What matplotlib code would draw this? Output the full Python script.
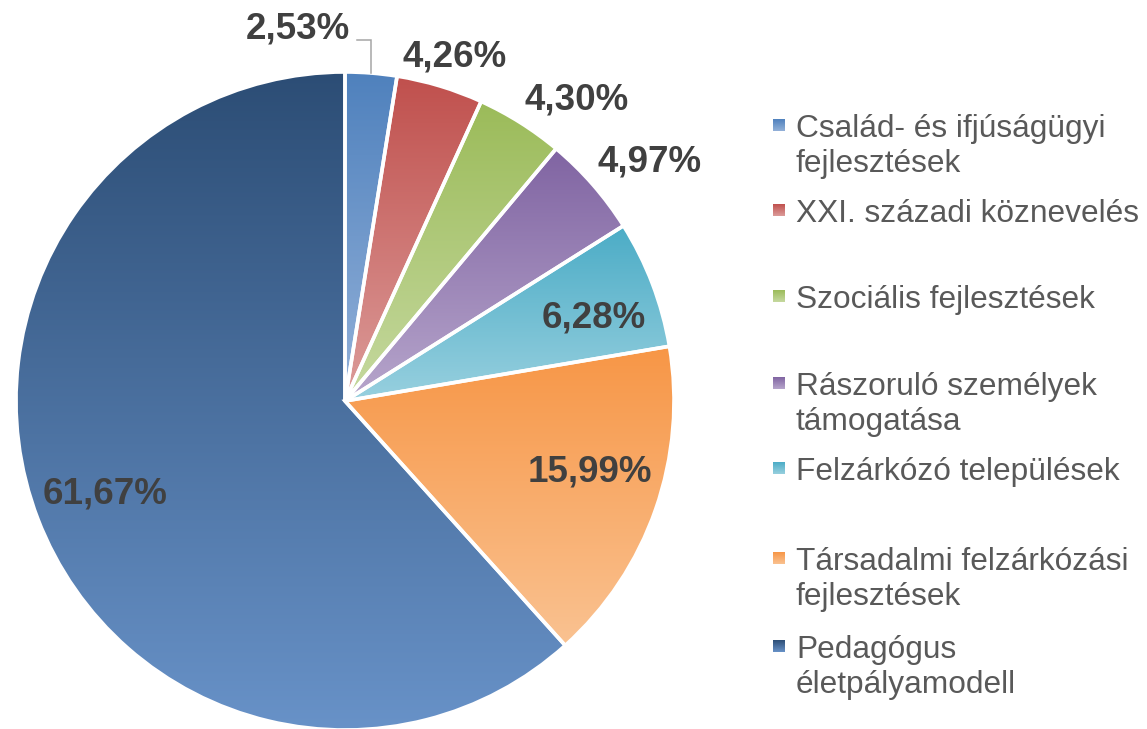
import numpy as np
import matplotlib
matplotlib.use("Agg")
import matplotlib.pyplot as plt
from matplotlib.patches import Wedge
from matplotlib.colors import to_rgb

# data
categories = [
    "Család- és ifjúságügyi\nfejlesztések",
    "XXI. századi köznevelés",
    "Szociális fejlesztések",
    "Rászoruló személyek\ntámogatása",
    "Felzárkózó települések",
    "Társadalmi felzárkózási\nfejlesztések",
    "Pedagógus\néletpályamodell",
]
shares = [2.53, 4.26, 4.30, 4.97, 6.28, 15.99, 61.67]
value_labels = ["2,53%", "4,26%", "4,30%", "4,97%", "6,28%", "15,99%", "61,67%"]

# gradient fills (top colour, bottom colour)
top_colors = ["#4f81bd", "#c0504d", "#9bbb59", "#8064a2", "#4bacc6", "#f79646", "#2c4d75"]
bottom_colors = ["#93b1d9", "#dc9c9a", "#c6d9a0", "#b7a6cc", "#98d0df", "#fac291", "#6892c8"]

W, H = 1147, 729
fig = plt.figure(figsize=(W / 100, H / 100), dpi=100)
ax = fig.add_axes([0, 0, 1, 1])
ax.set_xlim(0, W)
ax.set_ylim(0, H)
ax.axis("off")


def py(y):
    # pixel row -> data y
    return H - y


def gradient_image(x0, x1, y0, y1, c_top, c_bot, clip=None, zorder=1):
    n = 256
    t = np.linspace(0, 1, n)[:, None]
    a, b = np.array(to_rgb(c_top)), np.array(to_rgb(c_bot))
    img = (a * (1 - t) + b * t)[:, None, :]
    im = ax.imshow(img, extent=(x0, x1, y0, y1), origin="upper",
                   aspect="auto", interpolation="bilinear", zorder=zorder)
    if clip is not None:
        im.set_clip_path(clip)
    return im


cx, cy, r = 345, py(401), 329
font = "Liberation Sans"

start = 90.0
mids = []
for v, ct, cb in zip(shares, top_colors, bottom_colors):
    sweep = 360.0 * v / sum(shares)
    t1, t2 = start - sweep, start
    w = Wedge((cx, cy), r, t1, t2, facecolor="none", edgecolor="white",
              linewidth=2.6, zorder=3)
    ax.add_patch(w)
    th = np.radians(np.linspace(t1, t2, 200))
    xs = np.concatenate([[cx], cx + r * np.cos(th)])
    ys = np.concatenate([[cy], cy + r * np.sin(th)])
    gradient_image(xs.min(), xs.max(), ys.min(), ys.max(), ct, cb, clip=w, zorder=2)
    mids.append(np.radians(start - sweep / 2))
    start = t1

# data labels
label_pos = [(298, 29), (455, 57), (577, 100), (650, 162), (594, 318), (590, 472), (105, 494)]
for txt, (lx, ly) in zip(value_labels, label_pos):
    ax.text(lx, py(ly), txt, ha="center", va="center", fontsize=26.5,
            fontweight="bold", color="#404040", family=font, zorder=5)

# leader line for the first slice
ex, ey = cx + r * np.cos(mids[0]), cy + r * np.sin(mids[0])
ax.plot([ex, ex, ex - 14], [ey, py(40), py(40)], color="#a6a6a6", lw=1.1,
        solid_joinstyle="miter", zorder=4)

# legend
baselines = [137, 222, 308, 395, 480, 570, 658]
line_gap = 35
for cat, base, ct, cb in zip(categories, baselines, top_colors, bottom_colors):
    my = base - 12
    gradient_image(773, 785, py(my + 6), py(my - 6), ct, cb, zorder=4)
    for k, line in enumerate(cat.split("\n")):
        ax.text(796, py(base + k * line_gap), line, ha="left", va="baseline",
                fontsize=22.8, color="#595959", family=font, zorder=5)

fig.savefig("out.png", dpi=100, facecolor="white")
